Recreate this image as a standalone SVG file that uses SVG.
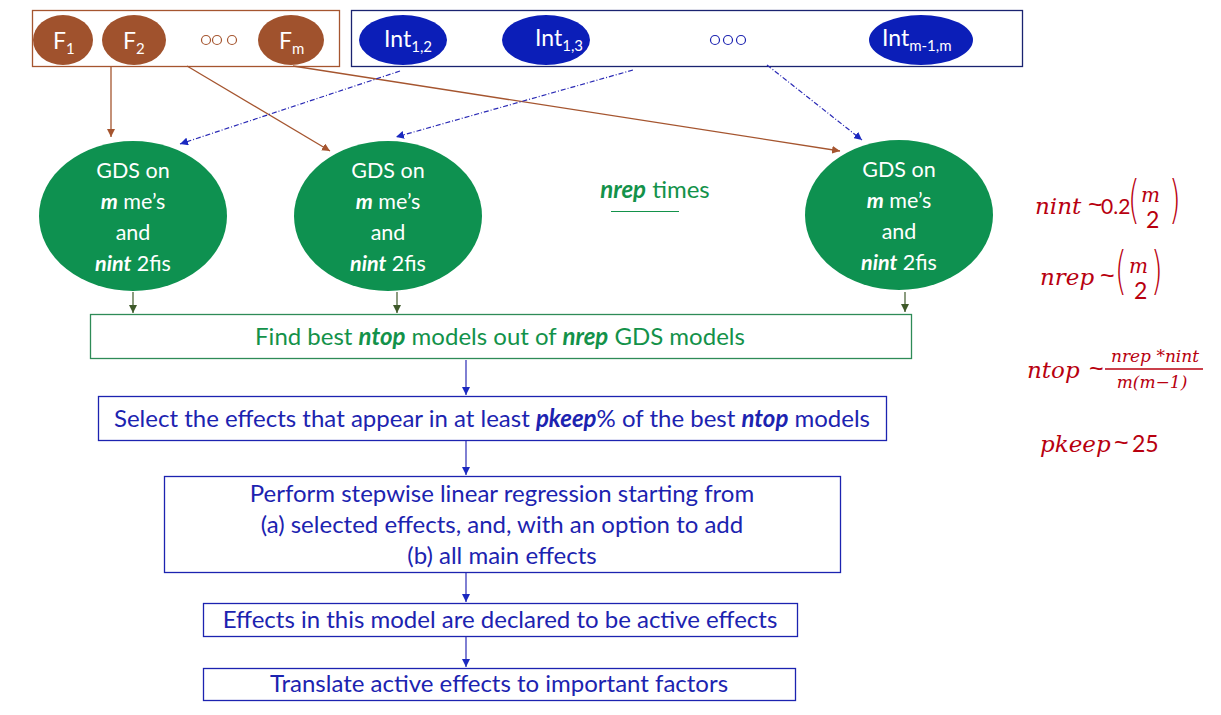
<svg xmlns="http://www.w3.org/2000/svg" width="1221" height="715" viewBox="0 0 1221 715">
<style>
  .t { font-family: Lato, "Open Sans", sans-serif; }
  .wt { fill: #fff; font-size: 21.5px; text-anchor: middle; }
  .gt { fill: #13924a; font-size: 24px; text-anchor: middle; }
  .bt { fill: #1c23b0; font-size: 24px; text-anchor: middle; }
  .b { font-weight: bold; font-style: italic; }
  .f { font-family: "DejaVu Serif", serif; font-style: italic; fill: #b8000f; }
  .fs { font-family: Lato, "Open Sans", sans-serif; fill: #b8000f; }
  .tl { font-family: "Liberation Sans", Arial, sans-serif; fill: #b8000f; font-size: 25px; }
  .par { font-family: "DejaVu Sans", sans-serif; fill: #b8000f; font-size: 30px; font-weight: 200; }
  .fe { fill: #a0522d; }
  .ie { fill: #0b1eb8; }
  .ge { fill: #0e9150; }
  .brn { stroke: #a5552f; stroke-width: 1.3; fill: none; marker-end: url(#ab); }
  .blu { stroke: #2a2ab5; stroke-width: 1.2; fill: none; stroke-dasharray: 5 2 1 2; marker-end: url(#abl); }
  .grn { stroke: #3f5a2a; stroke-width: 1.2; fill: none; marker-end: url(#ag); }
  .bl2 { stroke: #2a2ab5; stroke-width: 1.2; fill: none; marker-end: url(#abl); }
</style>
<defs>
  <marker id="ab" viewBox="0 0 10 10" refX="10" refY="5" markerWidth="8" markerHeight="8" markerUnits="userSpaceOnUse" orient="auto"><path d="M0,0 L10,5 L0,10 z" fill="#a5552f"/></marker>
  <marker id="abl" viewBox="0 0 10 10" refX="10" refY="5" markerWidth="8" markerHeight="8" markerUnits="userSpaceOnUse" orient="auto"><path d="M0,0 L10,5 L0,10 z" fill="#1a28c0"/></marker>
  <marker id="ag" viewBox="0 0 10 10" refX="10" refY="5" markerWidth="8" markerHeight="8" markerUnits="userSpaceOnUse" orient="auto"><path d="M0,0 L10,5 L0,10 z" fill="#3f5a2a"/></marker>
</defs>
<rect width="1221" height="715" fill="#fff"/>

<g id="factors">
  <rect x="32.5" y="10.5" width="307" height="56" fill="none" stroke="#a5552f" stroke-width="1.3"/>
  <ellipse class="fe" cx="63" cy="40" rx="30" ry="25"/>
  <text class="t" x="53" y="49" fill="#fff" font-size="23">F<tspan font-size="15" dy="5">1</tspan></text>
  <ellipse class="fe" cx="134" cy="40" rx="32" ry="25"/>
  <text class="t" x="123" y="49" fill="#fff" font-size="23">F<tspan font-size="15" dy="5">2</tspan></text>
  <g fill="none" stroke="#a5552f" stroke-width="1.2">
    <circle cx="206" cy="40" r="4.5"/><circle cx="217" cy="40" r="4.5"/><circle cx="232" cy="40" r="4.5"/>
  </g>
  <ellipse class="fe" cx="291" cy="40" rx="33" ry="25"/>
  <text class="t" x="279" y="49" fill="#fff" font-size="23">F<tspan font-size="15" dy="5">m</tspan></text>
</g>

<g id="interactions">
  <rect x="351.5" y="10.5" width="671" height="56" fill="none" stroke="#1a2370" stroke-width="1.3"/>
  <ellipse class="ie" cx="403" cy="40" rx="44" ry="25"/>
  <text class="t" x="384" y="47" fill="#fff" font-size="23">Int<tspan font-size="15" dy="5">1,2</tspan></text>
  <ellipse class="ie" cx="546" cy="40" rx="44" ry="25"/>
  <text class="t" x="535" y="46" fill="#fff" font-size="23">Int<tspan font-size="15" dy="5">1,3</tspan></text>
  <g fill="none" stroke="#1c23b0" stroke-width="1.2">
    <circle cx="715" cy="40" r="4.5"/><circle cx="728" cy="40" r="4.5"/><circle cx="741" cy="40" r="4.5"/>
  </g>
  <ellipse class="ie" cx="921" cy="40" rx="52" ry="25"/>
  <text class="t" x="882" y="46" fill="#fff" font-size="23">Int<tspan font-size="15" dy="5">m-1,m</tspan></text>
</g>

<g id="gds1">
  <ellipse class="ge" cx="133" cy="216" rx="94" ry="75"/>
  <text class="t wt" x="133" y="178">GDS on</text>
  <text class="t wt" x="133" y="209"><tspan class="b">m</tspan> me’s</text>
  <text class="t wt" x="133" y="240">and</text>
  <text class="t wt" x="133" y="271"><tspan class="b">nint</tspan> 2fis</text>
</g>
<g id="gds2">
  <ellipse class="ge" cx="388" cy="216" rx="94" ry="75"/>
  <text class="t wt" x="388" y="178">GDS on</text>
  <text class="t wt" x="388" y="209"><tspan class="b">m</tspan> me’s</text>
  <text class="t wt" x="388" y="240">and</text>
  <text class="t wt" x="388" y="271"><tspan class="b">nint</tspan> 2fis</text>
</g>
<g id="gds3">
  <ellipse class="ge" cx="899" cy="215" rx="94" ry="75"/>
  <text class="t wt" x="899" y="177">GDS on</text>
  <text class="t wt" x="899" y="208"><tspan class="b">m</tspan> me’s</text>
  <text class="t wt" x="899" y="239">and</text>
  <text class="t wt" x="899" y="270"><tspan class="b">nint</tspan> 2fis</text>
</g>

<g id="nrep-times">
  <text class="t gt" x="655" y="198"><tspan class="b">nrep</tspan> times</text>
  <line x1="611" y1="211.5" x2="679" y2="211.5" stroke="#13924a" stroke-width="1.2"/>
</g>

<g id="find">
  <rect x="90.5" y="314.5" width="821" height="44" fill="none" stroke="#2e8b57" stroke-width="1.3"/>
  <text class="t gt" x="500" y="345">Find best <tspan class="b">ntop</tspan> models out of <tspan class="b">nrep</tspan> GDS models</text>
</g>
<g id="select">
  <rect x="98.5" y="396.5" width="788" height="44" fill="none" stroke="#1c23b0" stroke-width="1.3"/>
  <text class="t bt" x="492" y="427">Select the effects that appear in at least <tspan class="b">pkeep</tspan>% of the best <tspan class="b">ntop</tspan> models</text>
</g>
<g id="perform">
  <rect x="164.5" y="476.5" width="676" height="96" fill="none" stroke="#1c23b0" stroke-width="1.3"/>
  <text class="t bt" x="502" y="502">Perform stepwise linear regression starting from</text>
  <text class="t bt" x="502" y="533">(a) selected effects, and, with an option to add</text>
  <text class="t bt" x="502" y="564">(b) all main effects</text>
</g>
<g id="declare">
  <rect x="203.5" y="603.5" width="594" height="33" fill="none" stroke="#1c23b0" stroke-width="1.3"/>
  <text class="t bt" x="500" y="628">Effects in this model are declared to be active effects</text>
</g>
<g id="translate">
  <rect x="203.5" y="668.5" width="592" height="32" fill="none" stroke="#1c23b0" stroke-width="1.3"/>
  <text class="t bt" x="499" y="692">Translate active effects to important factors</text>
</g>

<g id="connectors">
  <path class="brn" d="M111,66 V137"/>
  <path class="brn" d="M187,66 L330,151"/>
  <path class="brn" d="M293,66 L840,151"/>
  <path class="blu" d="M400,71 L180,144"/>
  <path class="blu" d="M633,70 L396,137"/>
  <path class="blu" d="M767,65 L862,140"/>
  <path class="grn" d="M133,292 V313"/>
  <path class="grn" d="M397,292 V313"/>
  <path class="grn" d="M905,292 V312"/>
  <path class="bl2" d="M466,360 V395"/>
  <path class="bl2" d="M466,441 V475"/>
  <path class="bl2" d="M466,573 V602"/>
  <path class="bl2" d="M466,637 V667"/>
</g>

<g id="formulas">
  <text class="f" x="1035" y="214" style="font-size:23px">nint</text>
  <text class="tl" x="1088" y="213">~</text>
  <text class="fs" x="1101" y="214" style="font-size:21px">0.2</text>
  <text class="par" transform="translate(1128,217) scale(1,1.7)">(</text>
  <text class="f" x="1141" y="202" style="font-size:20px">m</text>
  <text class="fs" x="1146" y="228" style="font-size:23px">2</text>
  <text class="par" transform="translate(1169,217) scale(1,1.7)">)</text>

  <text class="f" x="1040" y="285" style="font-size:23px">nrep</text>
  <text class="tl" x="1100" y="284">~</text>
  <text class="par" transform="translate(1115,288) scale(1,1.7)">(</text>
  <text class="f" x="1129" y="273" style="font-size:20px">m</text>
  <text class="fs" x="1134" y="299" style="font-size:23px">2</text>
  <text class="par" transform="translate(1151,288) scale(1,1.7)">)</text>

  <text class="f" x="1027" y="378" style="font-size:23px">ntop</text>
  <text class="tl" x="1089" y="377">~</text>
  <text class="f" x="1155" y="362" text-anchor="middle" style="font-size:17px">nrep *nint</text>
  <line x1="1105" y1="369" x2="1203" y2="369" stroke="#b8000f" stroke-width="1.6"/>
  <text class="f" x="1152" y="388" text-anchor="middle" style="font-size:17px">m(m−1)</text>

  <text class="f" x="1040" y="452" style="font-size:23px">pkeep</text>
  <text class="tl" x="1114" y="451">~</text>
  <text class="fs" x="1132" y="452" style="font-size:23px">25</text>
</g>
</svg>
